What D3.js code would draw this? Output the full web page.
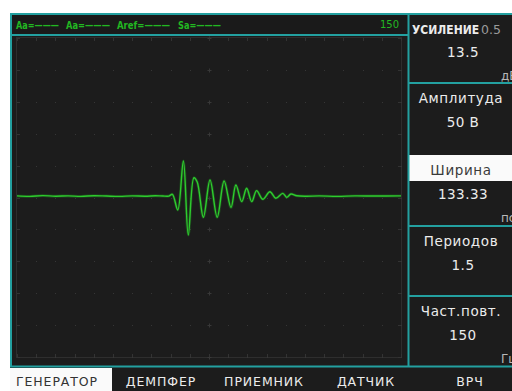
<!DOCTYPE html>
<html><head><meta charset="utf-8">
<script src="https://cdn.jsdelivr.net/npm/d3@7"></script>
<style>
html,body{margin:0;padding:0;background:#fff;}
svg{display:block;}
text{font-family:"DejaVu Sans",sans-serif;}
</style></head>
<body><svg id="c" width="512" height="391"></svg>
<script>
// ---- data ----
const timeUs = [0,5,10,15,20,25,30,35,40,45,50,54,57,59.3,60.7,62.8,65.0,66.9,69.1,70.4,72.8,75.4,78.2,80.9,83.6,85.5,87.8,89.7,91.7,93.6,96.0,98.8,101.1,103.8,105.4,107.0,109.3,113,118,125,132,140,150];
const amplitude = [1.0,0.7,1.2,0.8,1.0,0.7,1.1,0.9,0.7,1.0,0.8,1.1,0.9,0.9,2.0,-7.8,22.9,-23.5,12.4,9.7,-12.4,11.0,-12.4,10.3,-6.3,7.8,-2.6,5.8,-2.6,4.3,-1.1,3.6,-0.5,2.6,0.1,2.2,1.1,0.8,1.0,0.7,1.0,0.9,1.0];
const xDomain = [0,150];
const yDomain = [-100,100];
const legendLabels = ["Aa=———","Aa=———","Aref=———","Sa=———"];
const rangeLabel = "150";
const panelTitles = ["УСИЛЕНИЕ","Амплитуда","Ширина","Периодов","Част.повт."];
const panelTitleExtra = ["0.5","","","",""];
const panelValues = ["13.5","50 В","133.33","1.5","150"];
const panelUnits = ["дБ","","пс","","Гц"];
const selectedPanel = 2;
const tabs = ["ГЕНЕРАТОР","ДЕМПФЕР","ПРИЕМНИК","ДАТЧИК","ВРЧ"];
const selectedTab = 0;

// ---- layout ----
const svg = d3.select("#c");
const TEAL = "#23a0a0", BG = "#1c1c1c", GREEN = "#2ecc2e", TXT = "#ececec";
const plot = {x0:17, x1:401, y0:38, y1:357};
const x = d3.scaleLinear().domain(xDomain).range([plot.x0, plot.x1]);
const y = d3.scaleLinear().domain(yDomain).range([plot.y1, plot.y0]);

svg.append("rect").attr("x",10).attr("y",13).attr("width",502).attr("height",378).attr("fill",BG);
svg.append("rect").attr("x",11).attr("y",14).attr("width",397).attr("height",20).attr("fill","#1a1a1a");

// plot frame + grid
svg.append("rect").attr("x",plot.x0-0.5).attr("y",plot.y0-0.5)
  .attr("width",plot.x1-plot.x0+1).attr("height",plot.y1-plot.y0+1)
  .attr("fill","none").attr("stroke","#2e2e2e").attr("stroke-width",1);
const gx = d3.range(0,20.5,1).map(i=>xDomain[0]+i*(xDomain[1]-xDomain[0])/20);
const gy = d3.range(0,10.5,1).map(i=>yDomain[0]+i*(yDomain[1]-yDomain[0])/10);
const grid = svg.append("g");
gy.forEach(v=>{
  gx.forEach(u=>{
    const px = Math.round(x(u)), py = Math.round(y(v));
    if (Math.abs(u-75)<0.01) {
      grid.append("path").attr("d",`M${px-1.5},${py+0.5}h4M${px+0.5},${py-1.5}v4`).attr("stroke","#383838").attr("stroke-width",1);
    } else {
      grid.append("rect").attr("x",px).attr("y",py).attr("width",1).attr("height",1).attr("fill","#363636");
    }
  });
});
// edge ticks
gx.forEach(u=>{
  const px = Math.round(x(u))+0.5;
  grid.append("path").attr("d",`M${px},${plot.y0}v3M${px},${plot.y1}v-3`).attr("stroke","#333");
});
gy.forEach(v=>{
  const py = Math.round(y(v))+0.5;
  grid.append("path").attr("d",`M${plot.x0},${py}h3M${plot.x1},${py}h-3`).attr("stroke","#333");
});

// waveform
const line = d3.line().x((d,i)=>x(timeUs[i])).y(d=>y(d)).curve(d3.curveCatmullRom.alpha(0.5));
svg.append("path").attr("d",line(amplitude)).attr("fill","none")
  .attr("stroke","#1f8f1f").attr("stroke-width",3).attr("stroke-opacity",0.35);
svg.append("path").attr("d",line(amplitude)).attr("fill","none")
  .attr("stroke",GREEN).attr("stroke-width",1.4);

// header legend
const legX = [16,66,117,178];
const legW = [43,44,53,43];
legendLabels.forEach((t,i)=>{
  svg.append("text").attr("x",legX[i]).attr("y",29).attr("fill","#22b822")
    .attr("font-size",10.5).attr("font-weight","bold")
    .attr("textLength",legW[i]).attr("lengthAdjust","spacingAndGlyphs").text(t);
});
svg.append("text").attr("x",399).attr("y",28).attr("text-anchor","end").attr("fill","#22b822")
  .attr("font-size",10).text(rangeLabel);

// right panels
const panelTops = [13,83,155,226,296];
if (selectedPanel>=0) {
  svg.append("rect").attr("x",409).attr("y",panelTops[selectedPanel]).attr("width",103).attr("height",26).attr("fill","#fafafa");
}
panelTitles.forEach((t,i)=>{
  const top = panelTops[i];
  const sel = i===selectedPanel;
  if (i===0) {
    svg.append("text").attr("x",412).attr("y",top+21).attr("font-size",12)
      .style("font-family","'DejaVu Sans Condensed','DejaVu Sans',sans-serif")
      .attr("font-weight","bold").attr("fill",TXT).text(t);
    svg.append("text").attr("x",481).attr("y",top+21).attr("font-size",12.5).attr("fill","#9a9a9a").text(panelTitleExtra[i]);
  } else {
    svg.append("text").attr("x",461).attr("y",top+20).attr("text-anchor","middle")
      .attr("font-size",13.5).attr("letter-spacing",0.6).attr("fill",sel?"#3a3a3a":TXT).text(t);
  }
  svg.append("text").attr("x",463).attr("y",top+44).attr("text-anchor","middle")
    .attr("font-size",13.5).attr("letter-spacing",0.5).attr("fill",TXT).text(panelValues[i]);
  if (panelUnits[i]) {
    svg.append("text").attr("x",501).attr("y",top+67).attr("font-size",12).attr("fill","#b8b8b8").text(panelUnits[i]);
  }
});

// teal lines
const tl = svg.append("g").attr("stroke",TEAL).attr("stroke-width",2).attr("fill","none");
tl.append("path").attr("d","M10,14H512");
tl.append("path").attr("d","M11,13V367");
tl.append("path").attr("d","M10,35H408");
tl.append("path").attr("d","M408.5,13V367");
tl.append("path").attr("d","M10,366.5H512");
panelTops.slice(1).forEach((t,i)=>{
  if (i+1!==selectedPanel) tl.append("path").attr("d",`M408,${t}H512`);
});

// bottom tabs
const tabCenters = [57,161,264,366,470];
svg.append("rect").attr("x",10).attr("y",368).attr("width",102).attr("height",23).attr("fill","#fafafa");
tabs.forEach((t,i)=>{
  svg.append("text").attr("x",tabCenters[i]).attr("y",386).attr("text-anchor","middle")
    .attr("font-size",12.5).attr("letter-spacing",0.9)
    .attr("fill",i===selectedTab?"#333":TXT).text(t);
});
</script>
</body></html>
